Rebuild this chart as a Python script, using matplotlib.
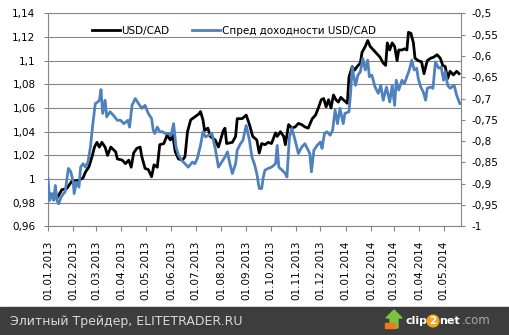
import pandas as pd
import matplotlib
matplotlib.use("Agg")
import matplotlib.pyplot as plt
import matplotlib.dates as mdates
from matplotlib.patches import Rectangle, Polygon

# USD/CAD (left axis), days counted from 01.01.2013
usdcad_days = [0, 5, 11, 17, 23, 29, 38, 43, 46, 50,
               54, 57, 60, 63, 66, 70, 73, 77, 83, 85,
               91, 95, 99, 102, 105, 109, 113, 115, 119, 123,
               127, 130, 134, 137, 142, 146, 150, 153, 156, 160,
               165, 168, 171, 175, 181, 185, 187, 190, 192, 196,
               199, 205, 209, 215, 217, 219, 226, 230, 232, 238,
               243, 247, 251, 256, 259, 262, 266, 270, 274, 279,
               281, 285, 289, 291, 295, 299, 303, 307, 311, 315,
               319, 324, 328, 332, 335, 338, 341, 344, 347, 350,
               353, 356, 359, 362, 367, 369, 373, 376, 379, 383,
               385, 389, 392, 395, 399, 403, 407, 411, 414, 416,
               419, 422, 425, 428, 430, 434, 437, 440, 442, 445,
               448, 450, 454, 458, 461, 465, 469, 473, 477, 481,
               484, 487, 490, 493, 497, 501, 504]
usdcad = [0.989, 0.985, 0.984, 0.991, 0.992, 0.998, 0.999, 1.001, 1.006, 1.010,
          1.019, 1.027, 1.031, 1.027, 1.031, 1.027, 1.020, 1.027, 1.023, 1.017,
          1.016, 1.013, 1.016, 1.010, 1.022, 1.026, 1.027, 1.019, 1.009, 1.008,
          1.002, 1.012, 1.010, 1.029, 1.030, 1.037, 1.033, 1.037, 1.023, 1.017,
          1.016, 1.019, 1.040, 1.050, 1.053, 1.055, 1.057, 1.050, 1.041, 1.043,
          1.036, 1.033, 1.027, 1.041, 1.043, 1.030, 1.031, 1.036, 1.051, 1.051,
          1.054, 1.046, 1.036, 1.033, 1.022, 1.030, 1.029, 1.031, 1.030, 1.039,
          1.036, 1.040, 1.036, 1.029, 1.046, 1.043, 1.044, 1.047, 1.046, 1.044,
          1.043, 1.051, 1.054, 1.061, 1.067, 1.068, 1.061, 1.067, 1.060, 1.071,
          1.067, 1.065, 1.069, 1.067, 1.064, 1.086, 1.095, 1.092, 1.095, 1.098,
          1.107, 1.112, 1.117, 1.112, 1.109, 1.106, 1.103, 1.098, 1.096, 1.115,
          1.109, 1.115, 1.112, 1.100, 1.109, 1.109, 1.110, 1.109, 1.124, 1.123,
          1.115, 1.102, 1.100, 1.099, 1.089, 1.100, 1.102, 1.103, 1.105, 1.102,
          1.096, 1.095, 1.085, 1.091, 1.088, 1.091, 1.089]

# yield spread (right axis)
spread_days = [0, 2, 5, 7, 9, 11, 13, 16, 19, 21,
               23, 25, 28, 31, 32, 35, 38, 40, 43, 46,
               49, 52, 55, 58, 61, 63, 65, 67, 70, 72,
               76, 80, 85, 89, 93, 98, 100, 103, 107, 111,
               115, 119, 123, 127, 129, 131, 134, 137, 140, 144,
               148, 151, 154, 157, 160, 164, 168, 172, 177, 180,
               183, 187, 190, 193, 197, 201, 205, 209, 213, 217,
               220, 223, 226, 230, 232, 236, 239, 243, 247, 250,
               253, 256, 259, 262, 264, 266, 270, 274, 279, 281,
               283, 287, 291, 293, 296, 299, 303, 307, 311, 315,
               321, 323, 326, 330, 334, 336, 339, 342, 346, 349,
               352, 355, 358, 362, 364, 369, 371, 373, 375, 377,
               380, 383, 386, 389, 392, 394, 397, 401, 405, 408,
               411, 415, 419, 422, 425, 427, 430, 434, 437, 440,
               443, 446, 449, 452, 454, 457, 460, 463, 465, 469,
               472, 475, 479, 482, 485, 487, 490, 493, 498, 501,
               505]
spread = [-0.888, -0.939, -0.923, -0.939, -0.904, -0.939, -0.947, -0.931, -0.923, -0.919,
          -0.892, -0.864, -0.872, -0.896, -0.923, -0.896, -0.908, -0.861, -0.853, -0.861,
          -0.849, -0.814, -0.759, -0.712, -0.708, -0.704, -0.679, -0.735, -0.704, -0.743,
          -0.731, -0.739, -0.751, -0.751, -0.759, -0.751, -0.767, -0.716, -0.700, -0.712,
          -0.723, -0.716, -0.735, -0.747, -0.774, -0.782, -0.767, -0.778, -0.778, -0.782,
          -0.782, -0.786, -0.759, -0.814, -0.833, -0.845, -0.853, -0.861, -0.849, -0.853,
          -0.841, -0.810, -0.778, -0.790, -0.786, -0.782, -0.817, -0.861, -0.849, -0.837,
          -0.825, -0.853, -0.876, -0.853, -0.821, -0.806, -0.798, -0.763, -0.798, -0.837,
          -0.853, -0.876, -0.911, -0.911, -0.884, -0.868, -0.864, -0.861, -0.853, -0.810,
          -0.861, -0.868, -0.876, -0.884, -0.790, -0.770, -0.798, -0.829, -0.814, -0.806,
          -0.829, -0.872, -0.821, -0.810, -0.802, -0.817, -0.782, -0.778, -0.786, -0.774,
          -0.727, -0.759, -0.723, -0.759, -0.735, -0.731, -0.688, -0.626, -0.649, -0.669,
          -0.645, -0.637, -0.606, -0.633, -0.610, -0.649, -0.645, -0.673, -0.688, -0.669,
          -0.704, -0.673, -0.708, -0.669, -0.716, -0.657, -0.680, -0.657, -0.665, -0.649,
          -0.633, -0.610, -0.633, -0.629, -0.653, -0.673, -0.684, -0.704, -0.676, -0.673,
          -0.676, -0.614, -0.629, -0.626, -0.657, -0.637, -0.669, -0.676, -0.669, -0.692,
          -0.712]

left_ticks = [0.96, 0.98, 1.0, 1.02, 1.04, 1.06, 1.08, 1.1, 1.12, 1.14]
left_labels = ["0,96", "0,98", "1", "1,02", "1,04", "1,06", "1,08", "1,1", "1,12", "1,14"]
right_ticks = [-1.0, -0.95, -0.9, -0.85, -0.8, -0.75, -0.7, -0.65, -0.6, -0.55, -0.5]
right_labels = ["-1", "-0,95", "-0,9", "-0,85", "-0,8", "-0,75", "-0,7", "-0,65", "-0,6", "-0,55", "-0,5"]

start = pd.Timestamp("2013-01-01")
x_usd = start + pd.to_timedelta(usdcad_days, unit="D")
x_spr = start + pd.to_timedelta(spread_days, unit="D")

grid_col = "#868686"
plt.rcParams["font.family"] = ["DejaVu Sans"]

fig = plt.figure(figsize=(5.09, 3.35), dpi=100)
ax = fig.add_axes([48 / 509, 1 - 226.4 / 335, 412.7 / 509, 213.1 / 335])
ax2 = ax.twinx()

l1, = ax.plot(x_usd, usdcad, color="black", lw=2.0, label="USD/CAD")
l2, = ax2.plot(x_spr, spread, color="#4f81bd", lw=2.0, label="Спред доходности USD/CAD")

ax.set_xlim(start, start + pd.Timedelta(days=506))
ax.set_ylim(0.96, 1.14)
ax2.set_ylim(-1.0, -0.5)

ax.set_yticks(left_ticks)
ax.set_yticklabels(left_labels)
ax2.set_yticks(right_ticks)
ax2.set_yticklabels(right_labels)

ax.xaxis.set_major_locator(mdates.MonthLocator())
ax.xaxis.set_major_formatter(mdates.DateFormatter("%d.%m.%Y"))
plt.setp(ax.get_xticklabels(), rotation=90, ha="center", va="top")

ax.grid(axis="y", color=grid_col, lw=0.8)
ax.set_axisbelow(True)
for s in ["left", "bottom", "top"]:
    ax.spines[s].set_color(grid_col)
    ax.spines[s].set_linewidth(0.8)
ax.spines["right"].set_visible(False)
for s in ["left", "top", "bottom"]:
    ax2.spines[s].set_visible(False)
ax2.spines["right"].set_color(grid_col)
ax2.spines["right"].set_linewidth(0.8)

ax.tick_params(axis="y", length=3, width=0.8, color=grid_col, pad=6, labelsize=7.5)
ax.tick_params(axis="x", length=3.5, width=0.8, color=grid_col, pad=7, labelsize=7.5)
ax2.tick_params(axis="y", length=3, width=0.8, color=grid_col, pad=5, labelsize=7.5)

ax.legend(handles=[l1, l2], loc="center", bbox_to_anchor=(0.45, 0.917), frameon=False,
          ncol=2, fontsize=7.5, handlelength=2.7, handletextpad=0.15, columnspacing=2.2)

# footer bar
fig.patches.append(Rectangle((0, 0), 1, 28 / 335, transform=fig.transFigure,
                             color="#3d3d3d", zorder=0))
fig.text(10 / 509, 14 / 335, "Элитный Трейдер, ELITETRADER.RU", color="#d9d9d9",
         fontsize=9, va="center", ha="left")

# clip2net logo
fig.patches.append(Rectangle((385 / 509, 7 / 335), 10 / 509, 5 / 335,
                             transform=fig.transFigure, color="#f07a1a", zorder=2))
fig.patches.append(Polygon([(390 / 509, 7 / 335), (398 / 509, 7 / 335), (398 / 509, 17 / 335),
                            (402 / 509, 17 / 335), (394 / 509, 25 / 335), (386 / 509, 17 / 335),
                            (390 / 509, 17 / 335)],
                           closed=True, transform=fig.transFigure, color="#7cc242", zorder=1))
fig.text(405 / 509, 14 / 335, "clip", color="white", fontsize=8, weight="bold", va="center")
fig.text(433 / 509, 14 / 335, "2", color="white", fontsize=7.5, weight="bold", va="center",
         ha="center", bbox=dict(boxstyle="circle,pad=0.15", fc="#f5a21b", ec="none"))
fig.text(439.5 / 509, 14 / 335, "net", color="white", fontsize=8, weight="bold", va="center")
fig.text(462 / 509, 14 / 335, ".com", color="#a8a8a8", fontsize=8.5, va="center")

fig.savefig("out.png", dpi=100)
